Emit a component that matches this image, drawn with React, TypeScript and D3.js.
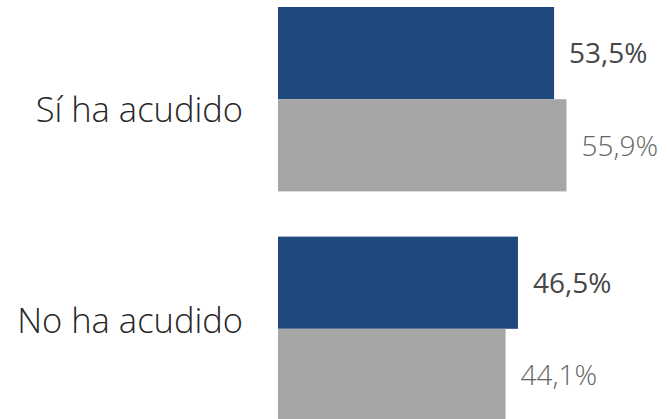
import React from 'react';
import * as d3 from 'd3';

const categories = ['Sí ha acudido', 'No ha acudido'];
const seriesNames = ['Actual', 'Anterior'];
const actualValues = [53.5, 46.5];
const previousValues = [55.9, 44.1];

const width = 667;
const height = 419;
const barLeft = 278;

const barColors = ['#1F497C', '#A6A6A6'];
const labelColors = ['#474747', '#666666'];
const labelWeights = [400, 300];

const fmt = (v: number) => v.toFixed(1).replace('.', ',') + '%';

const App: React.FC = () => {
  const x = d3.scaleLinear().domain([0, 100]).range([barLeft, barLeft + 516]);

  const y = d3.scaleBand<string>()
    .domain(categories)
    .range([7, 421])
    .paddingInner(0.197)
    .paddingOuter(0);

  const ySeries = d3.scaleBand<string>()
    .domain(seriesNames)
    .range([0, y.bandwidth()])
    .padding(0);

  // category labels sit a little closer to the middle than the bar groups
  const yLabel = d3.scalePoint<string>()
    .domain(categories)
    .range([110, 321]);

  const series = [actualValues, previousValues];

  return (
    <svg width={width} height={height} style={{ position: 'absolute', left: 0, top: 0 }}
      fontFamily="'Open Sans', 'Segoe UI', sans-serif">
      {categories.map((cat, ci) => (
        <g key={cat} transform={`translate(0,${y(cat)})`}>
          {seriesNames.map((s, si) => {
            const v = series[si][ci];
            const by = ySeries(s) ?? 0;
            return (
              <g key={s}>
                <rect x={x(0)} y={by} width={x(v) - x(0)} height={ySeries.bandwidth()}
                  fill={barColors[si]} />
                <text x={x(v) + 15} y={by + ySeries.bandwidth() / 2} dy="0.37em"
                  fontSize={28} fill={labelColors[si]} fontWeight={labelWeights[si]}>
                  {fmt(v)}
                </text>
              </g>
            );
          })}
        </g>
      ))}
      {categories.map(cat => (
        <text key={cat} x={243} y={yLabel(cat)} dy="0.36em" textAnchor="end"
          fontSize={34.5} fontWeight={300} fill="#262626">
          {cat}
        </text>
      ))}
    </svg>
  );
};

export default App;
